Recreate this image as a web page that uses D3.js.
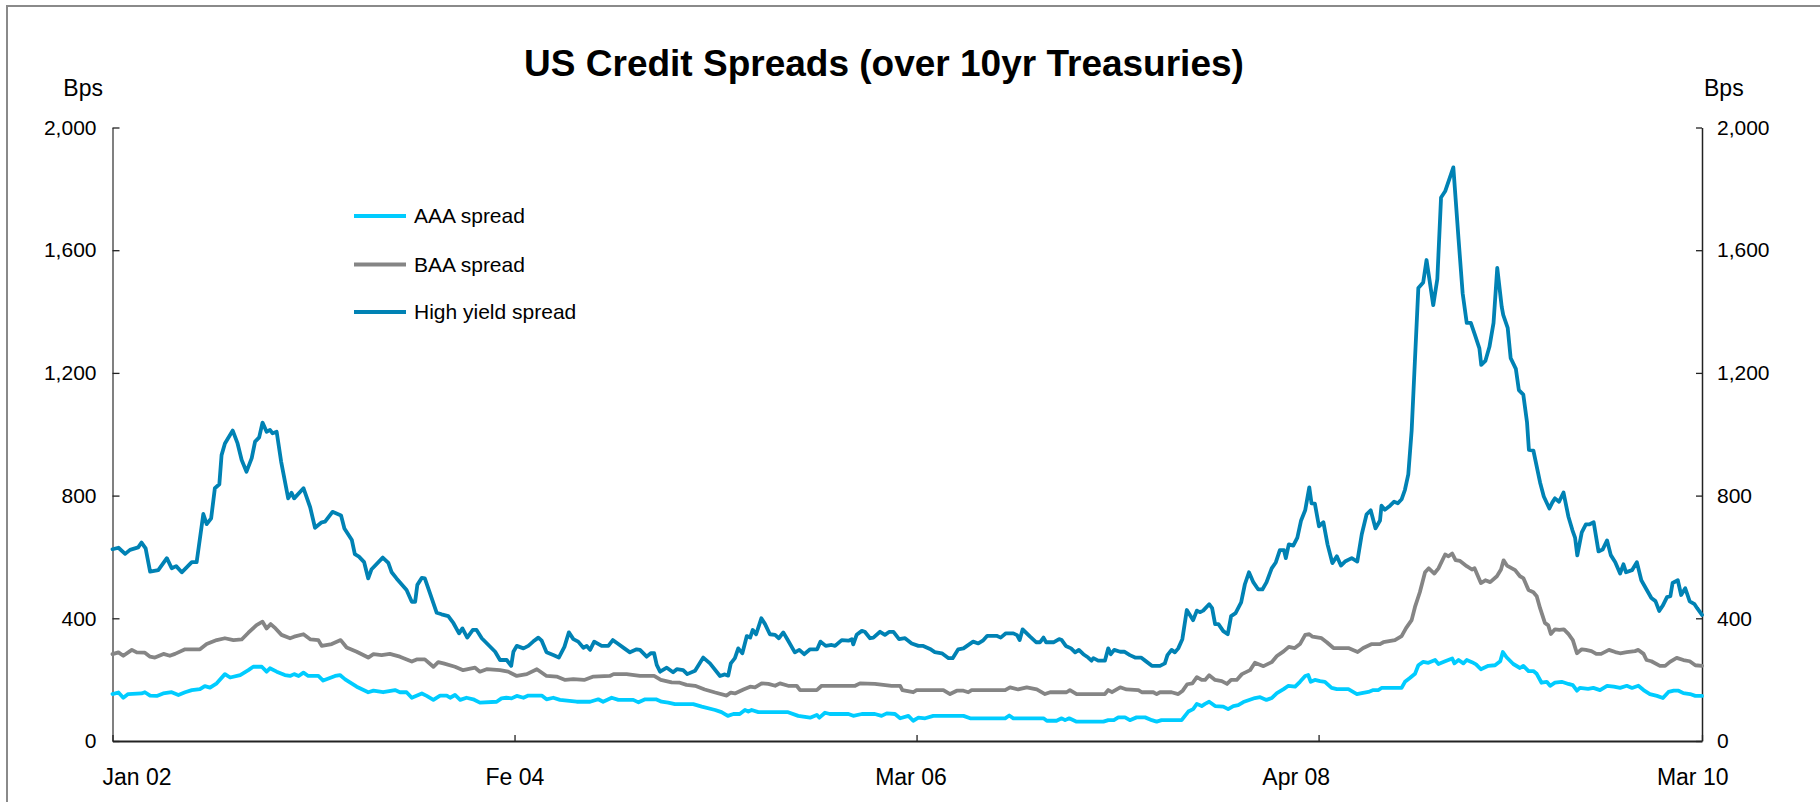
<!DOCTYPE html>
<html>
<head>
<meta charset="utf-8">
<script src="https://cdn.jsdelivr.net/npm/d3@7/dist/d3.min.js"></script>
<style>
  html, body { margin: 0; padding: 0; background: #fff; overflow: hidden; }
  svg { display: block; position: fixed; left: 0; top: 0; }
  text { font-family: "Liberation Sans", Arial, sans-serif; fill: #000; }
</style>
</head>
<body>
<svg id="chart" width="1820" height="802"></svg>
<script>
// ---------------- DATA (weekly index from Jan 2002) ----------------
const seriesNames = ["AAA spread", "BAA spread", "High yield spread"];
const seriesColors = ["#00CCFF", "#858585", "#0082B4"];

const xTickWeeks = [0, 108, 216, 324, 427];
const xLabelWeeks = [6.6, 108.1, 214.5, 318, 424.5];
const xTickLabels = ["Jan 02", "Fe 04", "Mar 06", "Apr 08", "Mar 10"];
const yTicks = [0, 400, 800, 1200, 1600, 2000];

const hyWeeks = [0,1.6,3.4,4.7,6.9,7.8,8.9,10.1,12.3,14.6,15.9,17.1,18.6,21.3,22.6,24.4,25.3,26.5,27.5,28.7,29.3,30.2,32.3,33.6,34.7,36.0,37.4,38.3,39.4,40.3,41.4,42.3,43.0,44.1,45.3,47.2,48.1,48.8,51.3,53.1,54.4,56.2,57.1,59.1,61.4,62.3,64.3,65.1,66.2,67.6,68.7,69.6,72.6,74.1,75.0,76.3,79.0,80.4,81.3,81.9,83.1,83.9,85.3,87.1,88.4,90.2,91.6,93.1,94.0,95.3,96.8,97.8,99.2,102.8,104.1,105.9,107.1,107.7,108.6,110.4,111.7,113.0,114.4,115.3,116.6,118.4,119.9,121.4,122.6,123.8,125.1,126.5,127.4,128.3,129.4,131.4,133.2,134.4,135.7,137.5,139.0,140.8,141.7,143.5,144.6,145.5,146.2,147.1,148.9,150.6,151.6,153.3,154.4,156.5,158.7,160.5,163.2,164.5,165.4,166.1,167.2,168.1,169.2,170.4,171.3,172.0,172.9,174.3,175.3,176.6,178.0,179.0,180.2,181.4,183.3,184.5,185.8,187.4,189.3,190.2,191.6,193.2,194.1,195.9,197.7,198.6,199.0,199.9,201.3,202.1,203.5,204.4,206.2,207.5,208.7,209.8,211.3,212.9,214.7,216.5,217.8,219.6,220.9,222.8,224.6,225.7,227.2,228.6,231.2,232.6,233.8,235.0,237.5,238.6,240.0,242.0,243.0,243.7,244.5,246.5,248.1,249.2,250.1,250.8,252.9,254.3,255.0,256.1,257.5,258.6,259.6,260.8,262.1,263.0,263.5,264.8,266.6,267.5,268.2,269.1,270.7,271.8,273.3,274.7,276.3,277.4,279.2,281.4,282.7,283.4,284.5,285.4,286.3,287.4,288.6,290.3,291.3,292.1,293.0,294.6,295.4,296.2,297.1,298.4,299.6,300.5,301.7,303.2,304.2,305.3,306.5,307.8,308.9,310.0,311.4,312.5,313.6,314.7,315.2,316.0,317.2,318.3,319.3,320.4,321.5,322.1,323.0,324.1,325.3,326.4,327.7,328.9,330.0,331.1,332.9,334.4,335.6,336.9,338.0,339.3,340.5,340.9,341.8,343.2,344.3,345.3,346.3,347.2,348.1,349.0,349.7,350.8,352.1,353.0,354.8,355.9,356.9,358.0,360.2,361.6,362.7,363.8,364.9,366.0,367.2,367.7,368.8,369.9,371.0,372.0,373.2,373.6,374.8,375.6,377.0,377.8,379.0,380.0,380.5,381.7,383.5,384.5,386.0,386.8,387.5,388.6,389.8,391.1,392.2,392.9,393.5,394.7,395.8,396.7,397.9,399.2,400.3,401.5,402.5,403.7,405.0,405.9,406.6,408.2,409.5,410.7,412.1,413.4,414.5,415.5,416.5,417.6,418.5,419.1,420.5,421.4,422.5,423.7,425.0,425.7,427.0];
const hyValues = [625,630,610,623,631,647,628,552,557,596,563,570,550,583,583,740,707,726,824,837,932,970,1012,970,916,878,922,976,990,1038,1008,1014,1003,1008,911,791,809,791,824,762,695,713,715,747,735,693,655,609,601,583,530,560,598,581,550,530,492,454,454,509,532,530,481,418,413,407,384,351,367,337,362,362,335,291,264,264,245,291,310,302,310,324,337,327,289,280,272,307,354,332,324,304,310,297,324,310,310,329,318,302,289,299,297,275,286,286,248,226,239,224,234,231,218,229,272,253,212,217,213,253,270,302,286,342,337,362,348,400,381,348,346,335,354,329,289,297,283,299,299,324,310,313,310,329,327,332,315,346,359,356,335,337,356,346,356,356,332,335,318,310,310,300,290,286,270,270,299,302,324,318,327,343,343,337,351,351,345,329,364,340,322,322,337,322,322,332,329,310,302,289,297,283,272,262,270,262,262,302,283,297,291,291,280,272,272,262,245,245,253,280,297,289,302,332,427,394,425,420,425,446,433,381,381,358,348,407,417,452,511,550,517,494,494,517,563,582,622,622,596,641,637,663,719,752,827,775,774,700,713,641,580,602,572,585,596,585,674,739,752,693,719,767,754,767,780,775,788,819,869,1012,1194,1477,1495,1568,1421,1506,1772,1792,1870,1636,1460,1363,1363,1324,1280,1226,1239,1285,1363,1542,1415,1389,1347,1248,1213,1144,1129,1038,949,947,843,797,758,778,791,780,810,732,687,663,605,680,706,706,713,618,624,654,606,583,546,576,550,557,583,524,494,466,456,424,442,469,472,515,524,476,498,455,446,433,411];

const baaWeeks = [0,1.6,2.9,5.2,6.5,8.7,10.1,11.4,13.7,15.4,16.8,19.5,23.5,25.3,28.0,30.2,32.5,34.7,36.5,38.7,40.3,41.4,42.5,43.8,45.4,47.7,48.8,51.3,53.2,55.3,56.2,58.9,61.3,62.9,65.6,68.7,70.1,72.3,74.5,77.2,80.4,81.7,83.9,86.2,87.5,88.9,92.0,94.2,97.4,98.7,100.5,104.1,106.3,108.6,111.3,114.0,116.6,119.3,121.6,123.8,126.7,129.2,133.6,134.6,138.1,141.7,145.5,147.3,150.2,152.4,154.2,156.5,159.1,161.9,165.0,166.1,167.2,169.5,171.3,172.6,174.4,176.2,178.0,179.3,181.5,183.8,184.7,189.2,190.5,199.5,200.8,204.8,209.3,211.6,212.2,215.1,216.0,220.9,223.2,225.0,226.8,228.6,229.9,230.8,239.8,241.1,243.3,245.6,248.3,250.5,251.9,256.3,257.2,259.0,266.6,267.5,268.5,270.7,272.4,275.6,276.5,279.6,280.5,281.4,284.5,286.3,287.5,288.7,290.1,291.3,292.6,293.5,294.6,296.2,298.0,299.4,300.5,302.0,303.4,305.6,306.9,309.2,311.4,312.8,314.6,316.0,317.6,319.0,320.4,321.5,322.4,324.8,326.2,328.0,332.0,334.5,336.0,338.3,340.5,341.4,344.5,346.3,347.5,349.0,349.9,351.2,352.6,353.6,355.1,356.2,358.0,358.9,359.9,360.8,362.0,363.8,365.2,365.9,367.6,368.8,370.1,371.9,373.0,373.7,374.6,376.8,378.1,379.0,380.4,381.7,382.6,383.5,384.8,385.7,386.4,387.5,388.7,389.9,391.1,392.3,393.4,394.7,395.8,397.3,398.6,399.9,402.0,403.7,405.0,406.8,409.0,409.9,411.3,412.1,413.4,415.7,417.1,418.4,420.2,422.0,423.7,425.2,427.0];
const baaValues = [283,289,278,297,289,288,275,272,284,278,284,299,299,316,329,335,329,331,353,378,389,367,381,367,346,335,340,348,331,329,310,316,329,305,291,272,283,280,284,275,259,266,266,242,257,253,242,231,239,226,234,231,226,212,218,234,212,210,199,202,199,210,212,218,218,212,212,199,191,190,183,180,168,158,148,158,155,168,177,175,188,186,180,188,180,180,166,166,180,180,188,186,180,180,166,159,166,166,166,153,164,164,159,166,166,175,168,175,168,153,159,159,166,153,153,166,159,175,168,166,159,159,153,159,159,153,164,185,188,208,199,199,214,199,195,186,199,199,218,231,255,244,257,277,292,307,303,316,346,348,340,335,322,303,303,290,303,316,316,322,329,342,368,394,437,485,550,563,546,563,608,602,611,590,587,570,559,563,515,524,518,537,559,589,572,557,537,531,492,485,472,433,385,377,349,364,362,364,349,329,286,299,297,293,284,284,297,290,286,290,293,297,284,264,260,245,245,258,271,264,260,247,245];

const aaaWeeks = [0,1.6,2.9,4.2,7.8,8.7,10.1,11.9,13.6,15.9,17.7,19.5,21.3,23.5,24.8,26.2,28.0,30.2,31.6,34.3,36.5,37.8,40.1,41.4,42.3,44.1,46.3,47.7,48.8,50.0,51.3,52.6,55.3,56.6,59.8,61.1,62.5,65.6,68.7,70.1,72.7,75.9,77.2,79.0,80.4,83.1,84.4,86.2,88.0,89.8,90.7,92.0,93.4,95.1,96.9,98.7,103.2,104.5,105.8,107.2,108.6,110.4,111.7,115.3,116.6,118.4,120.2,124.7,128.3,130.5,131.8,134.1,135.9,139.9,141.3,143.1,146.0,147.5,149.3,151.1,156.0,158.3,161.9,163.6,165.3,166.8,168.5,169.9,170.8,171.7,173.5,181.5,184.2,187.4,189.2,189.9,191.4,192.7,197.7,199.0,201.3,204.8,206.6,208.0,210.2,211.6,213.8,215.1,216.5,218.3,220.5,228.6,230.4,239.8,240.9,242.0,250.1,251.0,253.6,255.0,255.9,257.0,259.0,266.2,267.5,269.0,270.2,272.0,273.3,275.1,277.4,279.2,280.5,281.8,287.2,289.0,290.3,291.3,292.6,293.5,294.6,296.2,298.4,299.7,301.1,302.4,303.8,306.9,308.3,310.0,311.4,312.8,314.6,315.9,317.7,319.0,320.4,321.2,321.9,323.0,324.4,325.7,327.5,328.9,332.0,334.3,335.6,337.4,338.7,340.1,340.9,346.3,347.2,348.6,349.9,350.8,352.1,353.5,355.3,356.2,358.0,359.9,360.5,361.6,362.9,363.8,365.2,366.3,367.6,369.6,371.4,372.8,373.5,374.5,376.3,378.1,379.0,380.4,381.7,382.6,383.9,385.3,386.2,387.5,389.3,391.1,392.3,393.4,394.2,396.4,397.8,399.6,401.5,403.3,405.0,406.8,408.2,409.9,411.3,413.0,414.9,416.5,418.0,419.4,420.7,422.0,423.8,425.2,427.0];
const aaaValues = [153,158,141,153,155,159,148,147,155,159,150,159,166,169,179,174,188,218,207,215,231,242,242,226,237,226,215,212,218,212,223,212,212,197,212,215,201,177,159,164,159,166,159,159,141,155,147,134,148,148,141,150,134,141,136,125,128,139,141,139,147,141,148,148,136,141,134,128,128,136,128,141,134,134,126,136,136,128,125,120,120,112,101,94,82,88,88,101,96,101,94,94,82,76,85,76,92,88,88,82,88,88,82,90,88,74,82,66,76,74,82,82,74,74,83,74,74,66,66,74,68,74,63,63,68,68,77,77,68,77,77,68,63,68,68,96,104,121,114,121,128,114,112,104,114,117,127,140,143,134,140,156,169,180,177,193,212,215,193,199,195,193,173,169,169,153,156,160,166,166,173,173,193,206,219,247,258,255,264,251,260,269,253,264,253,264,257,250,234,245,247,260,290,273,251,238,245,228,228,219,190,193,180,190,193,186,182,164,173,170,173,166,180,177,173,180,173,180,166,153,147,140,160,164,164,156,153,147,147];

// ---------------- CHART ----------------
const svg = d3.select("#chart");
const W = 1820, H = 802;
const plot = { left: 112.5, right: 1702, top: 127.5, bottom: 741 };

svg.append("rect").attr("width", W).attr("height", H).attr("fill", "#fff");

// outer frame (top and left edges visible)
svg.append("path")
  .attr("d", `M7,${H} L7,6 L${W},6`)
  .attr("fill", "none").attr("stroke", "#8a8a8a").attr("stroke-width", 2);

const x = d3.scaleLinear().domain([0, 427]).range([plot.left, plot.right]);
const y = d3.scaleLinear().domain([0, 2000]).range([plot.bottom, plot.top]);

const fmt = d3.format(",");
const FONT = "Liberation Sans, Arial, sans-serif";

// left axis
const gL = svg.append("g").attr("transform", `translate(${plot.left},0)`)
  .call(d3.axisLeft(y).tickValues(yTicks).tickFormat(fmt).tickSizeInner(-7).tickSizeOuter(0).tickPadding(16));
gL.select(".domain").attr("stroke", "#808080").attr("stroke-width", 2);
gL.selectAll(".tick line").attr("stroke", "#222").attr("stroke-width", 1.3);
gL.selectAll(".tick text").attr("font-size", 21).attr("font-family", FONT).attr("fill", "#000");

// right axis
const gR = svg.append("g").attr("transform", `translate(${plot.right},0)`)
  .call(d3.axisRight(y).tickValues(yTicks).tickFormat(fmt).tickSizeInner(-6).tickSizeOuter(0).tickPadding(15));
gR.select(".domain").attr("stroke", "#222").attr("stroke-width", 1.5);
gR.selectAll(".tick line").attr("stroke", "#222").attr("stroke-width", 1.3);
gR.selectAll(".tick text").attr("font-size", 21).attr("font-family", FONT).attr("fill", "#000");

// bottom axis (ticks only; labels placed below)
const gB = svg.append("g").attr("transform", `translate(0,${plot.bottom})`)
  .call(d3.axisBottom(x).tickValues(xTickWeeks).tickFormat("").tickSizeInner(-6).tickSizeOuter(0));
gB.select(".domain").attr("stroke", "#222").attr("stroke-width", 2);
gB.selectAll(".tick line").attr("stroke", "#222").attr("stroke-width", 1.3);

svg.append("g").selectAll("text").data(xTickLabels).join("text")
  .attr("x", (d, i) => x(xLabelWeeks[i]))
  .attr("y", 785)
  .attr("text-anchor", "middle")
  .attr("font-size", 23)
  .text(d => d);

// axis unit labels
svg.append("text").attr("x", 103).attr("y", 96).attr("text-anchor", "end").attr("font-size", 23).text("Bps");
svg.append("text").attr("x", 1704).attr("y", 96).attr("text-anchor", "start").attr("font-size", 23).text("Bps");

// title
svg.append("text").attr("x", 884).attr("y", 76).attr("text-anchor", "middle")
  .attr("font-size", 37).attr("font-weight", "bold").text("US Credit Spreads (over 10yr Treasuries)");

// lines
const line = d3.line().x(d => x(d[0])).y(d => y(d[1]));
const series = [
  d3.zip(aaaWeeks, aaaValues),
  d3.zip(baaWeeks, baaValues),
  d3.zip(hyWeeks, hyValues)
];
series.forEach((s, i) => {
  svg.append("path").datum(s).attr("d", line)
    .attr("fill", "none").attr("stroke", seriesColors[i])
    .attr("stroke-width", 3.8).attr("stroke-linejoin", "round").attr("stroke-linecap", "round");
});

// legend
const legendY = [216, 264.5, 312];
seriesNames.forEach((name, i) => {
  svg.append("line").attr("x1", 354).attr("x2", 406).attr("y1", legendY[i]).attr("y2", legendY[i])
    .attr("stroke", seriesColors[i]).attr("stroke-width", 3.8);
  svg.append("text").attr("x", 414).attr("y", legendY[i]).attr("dy", "0.35em")
    .attr("font-size", 21).text(name);
});
</script>
</body>
</html>
